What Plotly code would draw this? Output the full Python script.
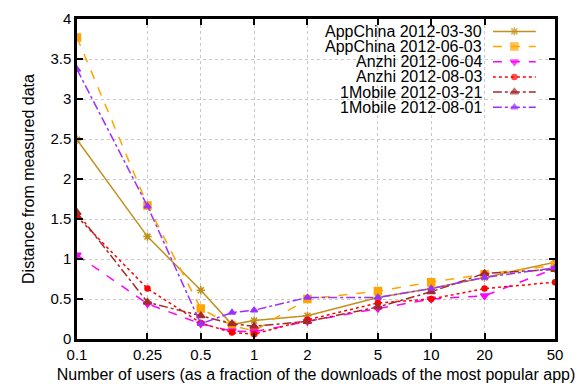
import plotly.graph_objects as go

x_vals = [0.1, 0.25, 0.5, 0.75, 1, 2, 5, 10, 20, 50]

appchina_0330 = [2.49, 1.28, 0.61, 0.18, 0.23, 0.29, 0.52, 0.63, 0.77, 0.96]
appchina_0603 = [3.77, 1.67, 0.38, 0.17, 0.10, 0.50, 0.60, 0.71, 0.81, 0.92]
anzhi_0604 = [1.05, 0.44, 0.19, 0.10, 0.09, 0.22, 0.38, 0.50, 0.54, 0.88]
anzhi_0803 = [1.53, 0.63, 0.20, 0.08, 0.06, 0.24, 0.45, 0.50, 0.63, 0.71]
mobile_0321 = [1.58, 0.46, 0.29, 0.19, 0.16, 0.22, 0.40, 0.59, 0.82, 0.87]
mobile_0801 = [3.37, 1.66, 0.19, 0.33, 0.36, 0.52, 0.52, 0.63, 0.77, 0.89]

series_names = ["AppChina 2012-03-30", "AppChina 2012-06-03", "Anzhi 2012-06-04",
                "Anzhi 2012-08-03", "1Mobile 2012-03-21", "1Mobile 2012-08-01"]
series_values = [appchina_0330, appchina_0603, anzhi_0604, anzhi_0803, mobile_0321, mobile_0801]

x_tick_vals = [0.1, 0.25, 0.5, 1, 2, 5, 10, 20, 50]
x_tick_text = ["0.1", "0.25", "0.5", "1", "2", "5", "10", "20", "50"]
y_tick_vals = [0, 0.5, 1, 1.5, 2, 2.5, 3, 3.5, 4]
y_tick_text = ["0", "0.5", "1", "1.5", "2", "2.5", "3", "3.5", "4"]

styles = [
    ("#c0901c", "solid", "asterisk-open", 7),
    ("#ffa500", "dash", "square", 7),
    ("#ff00ff", "dash", "triangle-down", 7),
    ("#ff0000", "dot", "circle", 5),
    ("#a52a2a", "dashdot", "triangle-up", 7),
    ("#9b30ff", "dashdot", "triangle-up", 6),
]

FAM = "Liberation Sans"
TXT = dict(family=FAM, size=15, color="black")

fig = go.Figure()
for name, ys, (color, dash, sym, size) in zip(series_names, series_values, styles):
    fig.add_trace(go.Scatter(
        x=x_vals, y=ys, name=name, mode="lines+markers",
        line=dict(color=color, width=1.5, dash=dash),
        marker=dict(color=color, symbol=sym, size=size,
                    line=dict(color=color, width=1.5)),
        showlegend=False,
    ))

# Key (legend) drawn gnuplot-style: right-aligned text, sample on the right
annotations = []
for i, (name, (color, dash, sym, size)) in enumerate(zip(series_names, styles)):
    fig.add_trace(go.Scatter(
        x=[0, 0.5, 1], y=[i, i, i], mode="lines+markers",
        xaxis="x2", yaxis="y2", showlegend=False, hoverinfo="skip",
        line=dict(color=color, width=1.5, dash=dash),
        marker=dict(color=color, symbol=sym, size=[0, size, 0],
                    line=dict(color=color, width=1.5)),
    ))
    annotations.append(dict(
        x=0.849, xref="paper", y=i, yref="y2", text=name, showarrow=False,
        xanchor="right", yanchor="middle", borderpad=0,
        font=dict(family=FAM, size=16, color="black"),
    ))

axis_common = dict(
    showgrid=True, gridcolor="#c8c8c8", griddash="dot", gridwidth=1,
    showline=True, linecolor="black", linewidth=2.5, mirror="allticks",
    ticks="inside", ticklen=6, tickwidth=2, tickcolor="black", zeroline=False,
    tickfont=TXT,
)
fig.update_layout(
    width=584, height=392,
    margin=dict(l=77, r=29, t=10, b=52),
    paper_bgcolor="white", plot_bgcolor="white",
    font=TXT,
    showlegend=False,
    annotations=annotations,
    shapes=[dict(type="rect", xref="paper", yref="paper", x0=0.473, x1=0.995,
                 y0=0.697, y1=0.995, fillcolor="white", line=dict(width=0),
                 layer="between")],
    xaxis=dict(
        type="log", range=[-1, 1.69897],
        tickvals=x_tick_vals, ticktext=x_tick_text,
        title=dict(text="Number of users (as a fraction of the downloads of the most popular app)",
                   standoff=8, font=dict(family=FAM, size=16, color="black")),
        **axis_common,
    ),
    yaxis=dict(
        range=[0, 4],
        tickvals=y_tick_vals, ticktext=y_tick_text,
        title=dict(text="Distance from measured data", standoff=12,
                   font=dict(family=FAM, size=16, color="black")),
        **axis_common,
    ),
    xaxis2=dict(domain=[0.870, 0.960], range=[0, 1], anchor="y2",
                visible=False, fixedrange=True),
    yaxis2=dict(domain=[0.7006, 0.985], range=[5.5, -0.5], anchor="x2",
                visible=False, fixedrange=True),
)

fig.write_html("out.html")
